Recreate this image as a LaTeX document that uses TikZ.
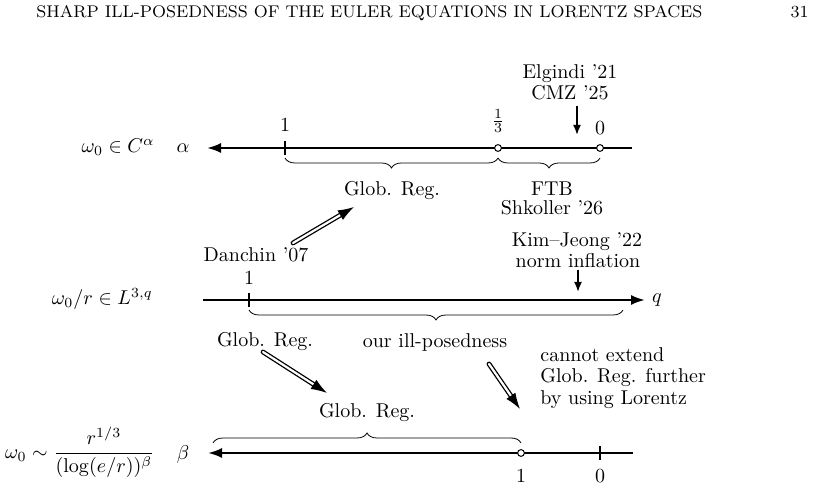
\documentclass[tikz,border=0pt]{standalone}
\usetikzlibrary{arrows.meta,decorations.pathreplacing}
\begin{document}
\begin{tikzpicture}[x=0.5pt,y=-0.5pt,line width=0.4pt,every node/.style={inner sep=0pt},
  axis/.style={line width=1.1pt},
  lefttip/.style={{Latex[length=7pt,width=5pt]}-},
  righttip/.style={-{Latex[length=7pt,width=5pt]}},
  tick/.style={line width=0.6pt},
  hole/.style={draw,circle,fill=white,inner sep=0pt,minimum size=3.4pt,line width=0.5pt},
  brc/.style={decorate,decoration={brace,amplitude=5pt}},
  mbrc/.style={decorate,decoration={brace,amplitude=5pt,mirror}},
  cite/.style={line width=0.9pt,-{Latex[length=5pt,width=4pt]}},
  imply/.style={double,double distance=1.1pt,line width=0.65pt,line cap=round,-{Latex[length=8pt,width=5.5pt]}},
  head/.style={font=\fontsize{8.47}{10}\selectfont}]
\useasboundingbox (0,0) rectangle (829,490);
% running head
\node[head,anchor=base west] (title) at (36,18) {SHARP ILL-POSEDNESS OF THE EULER EQUATIONS IN LORENTZ SPACES};
\node[head,anchor=base east] (page) at (809,18) {31};
% Hoelder axis
\coordinate (AL) at (207,148);
\coordinate (AR) at (632,148);
\coordinate (A1) at (285,148);
\coordinate (A3) at (498,148);
\coordinate (A0) at (600,148);
\draw[axis,lefttip] (AL) -- (AR);
\draw[tick] (285,141) -- (285,155);
\node[hole] (a3) at (A3) {};
\node[hole] (a0) at (A0) {};
\node[anchor=base east] (Ca) at (155,153) {$\omega_0\in C^{\alpha}$};
\node (alpha) at (183,148) {$\alpha$};
\node[anchor=base] (a1lab) at (285,132) {1};
\node (a3lab) at (498,121) {$\frac13$};
\node[anchor=base] (a0lab) at (600,135) {0};
\node[anchor=base] (elg) at (570,79) {Elgindi '21};
\node[anchor=base] (cmz) at (570,100) {CMZ '25};
\coordinate (E1) at (577,106);
\coordinate (E2) at (577,135);
\draw[cite] (E1) -- (E2);
\draw[mbrc] (285,158) -- (498,158);
\draw[mbrc] (498,158) -- (600,158);
\node[anchor=base] (greg1) at (392,196) {Glob. Reg.};
\node[anchor=base] (ftb) at (552,196) {FTB};
\node[anchor=base] (shk) at (552,215) {Shkoller '26};
% Lorentz axis
\coordinate (BL) at (203,300);
\coordinate (BR) at (645,300);
\draw[axis,righttip] (BL) -- (BR);
\draw[tick] (249,293) -- (249,307);
\node[anchor=base east] (Lq) at (153,305) {$\omega_0/r\in L^{3,q}$};
\node (q) at (657,300) {$q$};
\node[anchor=base] (b1lab) at (249,285) {1};
\node[anchor=base] (dan) at (256,262) {Danchin '07};
\node[anchor=base] (kj) at (577,247) {Kim--Jeong '22};
\node[anchor=base] (ni) at (578,268) {norm inflation};
\coordinate (K1) at (578,270);
\coordinate (K2) at (578,292);
\draw[cite] (K1) -- (K2);
\draw[mbrc] (249,310) -- (623,310);
\node[anchor=base] (greg2) at (265,347) {Glob. Reg.};
\node[anchor=base] (ill) at (435,348) {our ill-posedness};
\node[anchor=base west] (cant) at (540,362) {cannot extend};
\node[anchor=base west] (cant2) at (540,383) {Glob. Reg. further};
\node[anchor=base west] (cant3) at (540,405) {by using Lorentz};
% log axis
\coordinate (CL) at (208,453);
\coordinate (CR) at (633,453);
\draw[axis,lefttip] (CL) -- (CR);
\draw[tick] (600,446) -- (600,460);
\node[hole] (c1) at (521,453) {};
\node[anchor=east] (lg) at (155,452) {$\displaystyle\omega_0\sim\frac{r^{1/3}}{(\log(e/r))^{\beta}}$};
\node (beta) at (183,455) {$\beta$};
\node[anchor=base] (c1lab) at (521,483) {1};
\node[anchor=base] (c0lab) at (600,483) {0};
\draw[brc] (213,443) -- (521,443);
\node[anchor=base] (greg3) at (367,418) {Glob. Reg.};
% implications
\coordinate (D1) at (293,243);
\coordinate (D2) at (354,207);
\coordinate (G1) at (263,352);
\coordinate (G2) at (327,393);
\coordinate (I1) at (489,364);
\coordinate (I2) at (520,409);
\draw[imply] (D1) -- (D2);
\draw[imply] (G1) -- (G2);
\draw[imply] (I1) -- (I2);
\end{tikzpicture}
\end{document}
